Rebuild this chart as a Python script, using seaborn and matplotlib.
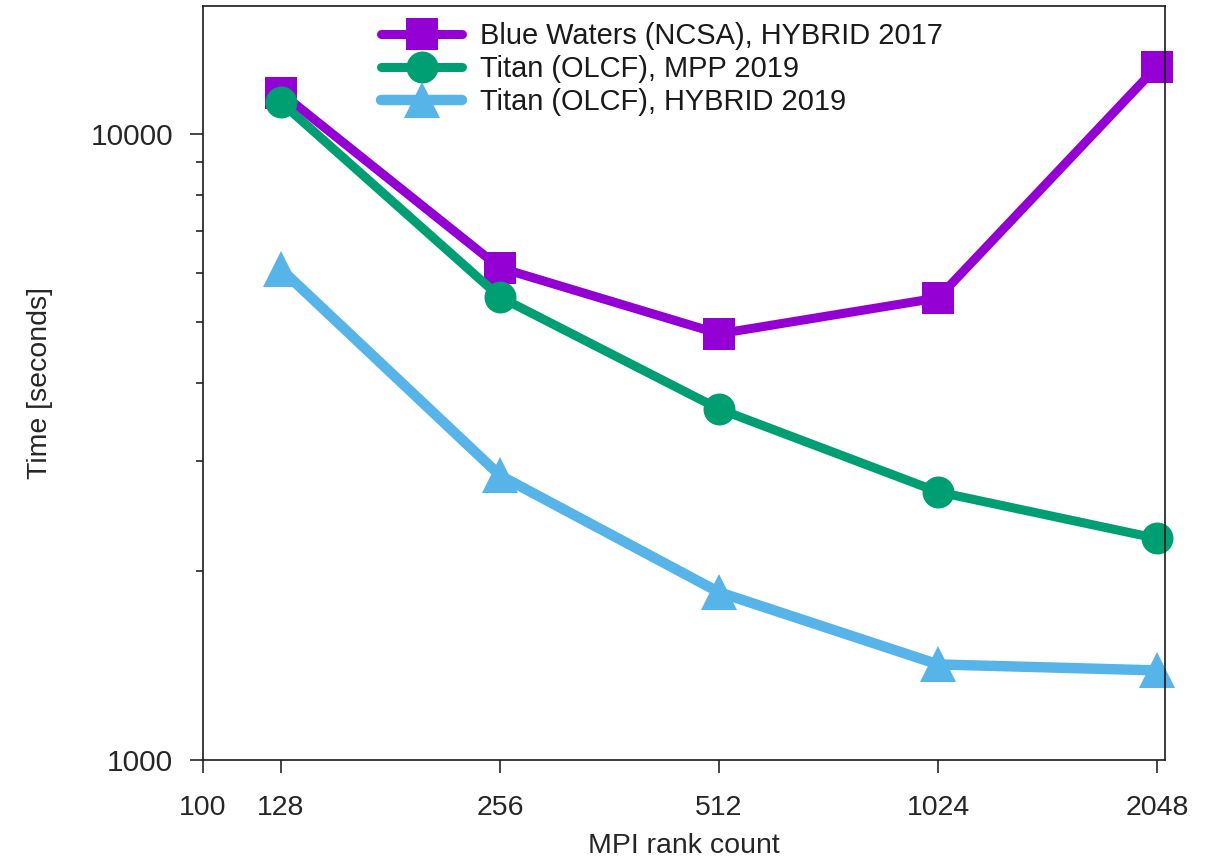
# MPI scaling timings, log-log

import numpy as np
import pandas as pd
import matplotlib
matplotlib.use("Agg")
import matplotlib.pyplot as plt
from matplotlib.ticker import FixedLocator, NullLocator, FixedFormatter
import seaborn as sns

# -----------------------------
# data
# -----------------------------
ranks = [128, 256, 512, 1024, 2048]
blue_waters_hybrid = [11630, 6110, 4794, 5470, 12810]
titan_mpp = [11230, 5486, 3635, 2680, 2258]
titan_hybrid = [6081, 2847, 1853, 1421, 1390]

series_names = ["Blue Waters (NCSA), HYBRID 2017",
                "Titan (OLCF), MPP 2019",
                "Titan (OLCF), HYBRID 2019"]
x_ticks = [100, 128, 256, 512, 1024, 2048]
y_ticks = [1000, 10000]
y_minor = [2000, 3000, 4000, 5000, 6000, 7000, 8000, 9000]

sns.set_style("white")
plt.rcParams["font.family"] = ["Liberation Sans", "DejaVu Sans"]
plt.rcParams["text.color"] = "#1a1a1a"

fig = plt.figure(figsize=(12.22, 8.63), dpi=100)
ax = fig.add_axes([0.1661, 0.1194, 0.7873, 0.8736])

# -----------------------------
# the three lines
# -----------------------------
colors = ["#9400D3", "#009E73", "#56B4E9"]
markers = ["s", "o", "^"]
msizes = [23, 23, 26]
lwidths = [6.5, 6.5, 7.5]
all_values = [blue_waters_hybrid, titan_mpp, titan_hybrid]

for name, vals, c, m, ms, lw in zip(series_names, all_values, colors, markers, msizes, lwidths):
    df = pd.DataFrame({"ranks": ranks, "time": vals})
    sns.lineplot(data=df, x="ranks", y="time", ax=ax, color=c, marker=m,
                 markersize=ms, linewidth=lw, markeredgewidth=0,
                 label=name, clip_on=False)

ax.set_xscale("log")
ax.set_yscale("log")
ax.set_xlim(100, 2100)
ax.set_ylim(1000, 16000)

ax.xaxis.set_major_locator(FixedLocator(x_ticks))
ax.xaxis.set_major_formatter(FixedFormatter([str(t) for t in x_ticks]))
ax.xaxis.set_minor_locator(NullLocator())
ax.yaxis.set_major_locator(FixedLocator(y_ticks))
ax.yaxis.set_major_formatter(FixedFormatter([str(t) for t in y_ticks]))
ax.yaxis.set_minor_locator(FixedLocator(y_minor))
ax.yaxis.set_minor_formatter(FixedFormatter([""] * len(y_minor)))

ax.tick_params(axis="x", which="major", direction="out", length=9.5, width=1.2,
               labelsize=20.5, pad=16, bottom=True, top=False)
ax.tick_params(axis="y", which="major", direction="out", length=9.5, width=1.2,
               labelsize=21.5, pad=12, left=True, right=False)
ax.tick_params(axis="y", which="minor", direction="out", length=5, width=1.2,
               left=True, right=False)

for s in ax.spines.values():
    s.set_linewidth(1.2)
    s.set_color("#1a1a1a")

ax.set_xlabel("MPI rank count", fontsize=20.5)
ax.set_ylabel("Time [seconds]", fontsize=20.5)
ax.xaxis.set_label_coords(0.5, -0.114)
ax.xaxis.label.set_va("center")
ax.yaxis.set_label_coords(-0.1694, 0.5)
ax.yaxis.label.set_va("center")

leg = ax.legend(loc="upper left", bbox_to_anchor=(0.185, 0.979), frameon=False,
                fontsize=20.9, handlelength=2.8, handletextpad=0.62,
                labelspacing=0.18, borderpad=0, borderaxespad=0)

fig.savefig("out.png", dpi=100)
